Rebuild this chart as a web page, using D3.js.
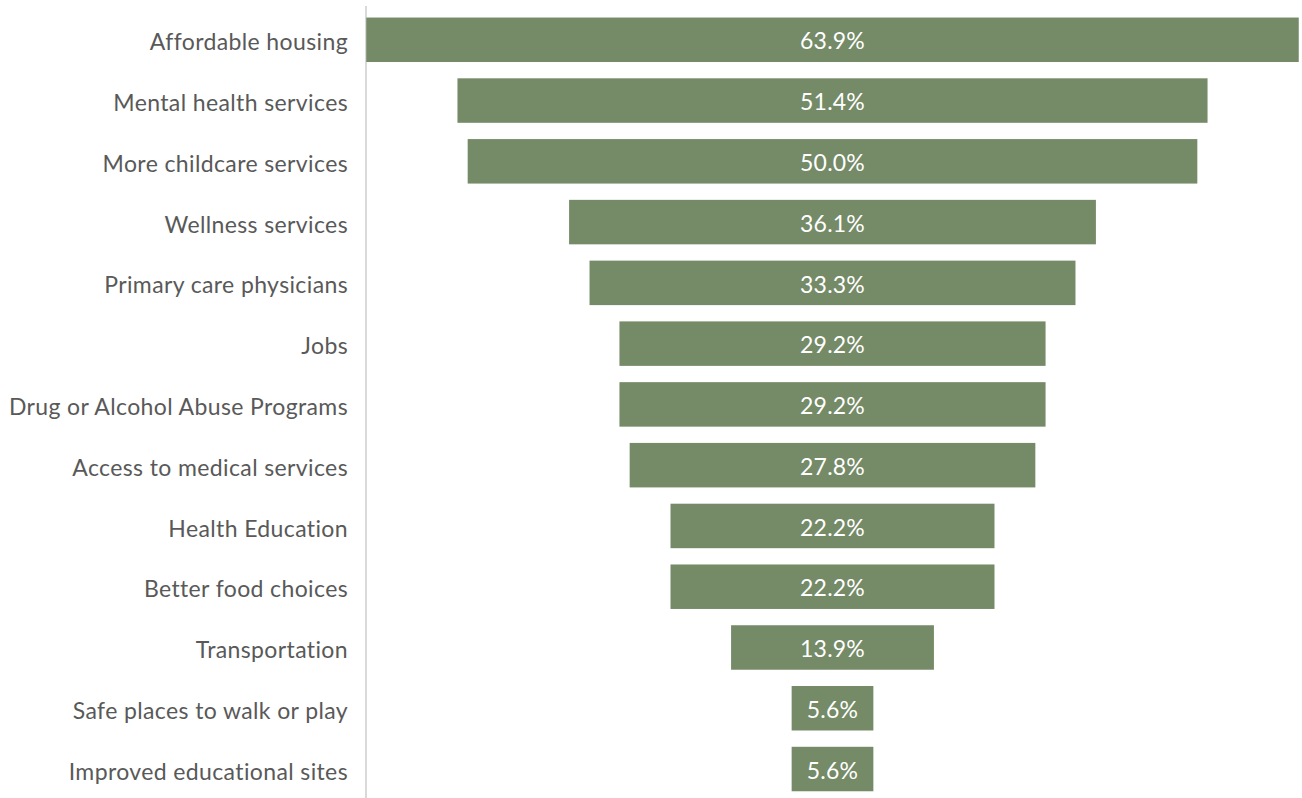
<!DOCTYPE html>
<html>
<head>
<meta charset="utf-8">
<script src="https://cdn.jsdelivr.net/npm/d3@7"></script>
<style>
  html, body { margin: 0; padding: 0; background: #fff; }
  svg { display: block; }
</style>
</head>
<body>
<svg id="chart" width="1302" height="798"></svg>
<script>
// Survey responses: most needed community services (share of respondents, %)
const categories = [
  "Affordable housing",
  "Mental health services",
  "More childcare services",
  "Wellness services",
  "Primary care physicians",
  "Jobs",
  "Drug or Alcohol Abuse Programs",
  "Access to medical services",
  "Health Education",
  "Better food choices",
  "Transportation",
  "Safe places to walk or play",
  "Improved educational sites"
];
const values = [63.9, 51.4, 50.0, 36.1, 33.3, 29.2, 29.2, 27.8, 22.2, 22.2, 13.9, 5.6, 5.6];

const svg = d3.select("#chart");
const fontFamily = "Lato, 'Open Sans', sans-serif";
const barColor = "#758a66";
const axisX = 366;
const plotRight = 1299;
const centerX = (axisX + plotRight) / 2;

// Funnel: each bar is centred on the same vertical line
const w = d3.scaleLinear()
  .domain([0, d3.max(values)])
  .range([0, plotRight - axisX - 0.5]);

const y = d3.scaleBand()
  .domain(categories)
  .range([9.4, 9.4 + 13 * 60.77])
  .paddingInner(0.268)
  .paddingOuter(0.134);

// vertical category axis line
svg.append("line")
  .attr("x1", axisX).attr("x2", axisX)
  .attr("y1", 6).attr("y2", 798)
  .attr("stroke", "#d9d9d9")
  .attr("stroke-width", 2);

const data = categories.map((c, i) => ({ c, v: values[i] }));

svg.append("g").selectAll("rect")
  .data(data)
  .join("rect")
  .attr("x", d => centerX - w(d.v) / 2)
  .attr("y", d => y(d.c))
  .attr("width", d => w(d.v))
  .attr("height", y.bandwidth())
  .attr("fill", barColor);

svg.append("g").selectAll("text")
  .data(data)
  .join("text")
  .attr("x", centerX)
  .attr("y", d => y(d.c) + y.bandwidth() / 2)
  .attr("dy", "0.42em")
  .attr("text-anchor", "middle")
  .attr("fill", "#ffffff")
  .style("font-family", fontFamily)
  .style("font-size", "23px")
  .style("letter-spacing", "0.2px")
  .text(d => d.v.toFixed(1) + "%");

// category labels
svg.append("g").selectAll("text")
  .data(data)
  .join("text")
  .attr("x", axisX - 18)
  .attr("y", d => y(d.c) + y.bandwidth() / 2)
  .attr("dy", "0.46em")
  .attr("text-anchor", "end")
  .attr("fill", "#595959")
  .style("font-family", fontFamily)
  .style("font-size", "23px")
  .style("letter-spacing", "0.38px")
  .text(d => d.c);
</script>
</body>
</html>
